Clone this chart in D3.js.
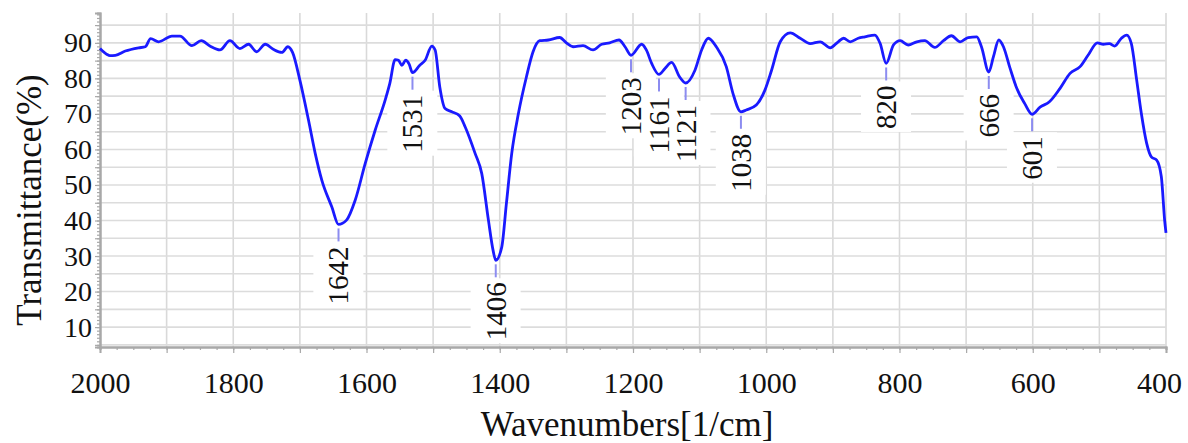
<!DOCTYPE html>
<html>
<head>
<meta charset="utf-8">
<script src="https://cdn.jsdelivr.net/npm/d3@7"></script>
<style>
  html, body { margin: 0; padding: 0; background: #fff; }
  svg { display: block; }
  svg text { font-family: "Liberation Serif", "Times New Roman", Times, "DejaVu Serif", serif; fill: #111; }
</style>
</head>
<body>
<svg id="chart" width="1188" height="443"></svg>
<script>
// FTIR spectrum: wavenumber (1/cm) vs transmittance (%)
const wavenumbers = [
  2000, 1990, 1985, 1977, 1962, 1942, 1932, 1924, 1912, 1892, 1880, 1862, 1848, 1835, 1820,
  1805, 1790, 1777, 1765, 1752, 1740, 1727, 1718, 1711, 1700, 1687, 1677, 1667, 1652, 1642,
  1630, 1617, 1602, 1587, 1572, 1565, 1557, 1552, 1547, 1541, 1536, 1531, 1520, 1512, 1502,
  1497, 1490, 1482, 1472, 1460, 1452, 1437, 1427, 1417, 1410, 1406, 1397, 1390, 1382, 1372,
  1360, 1350, 1340, 1327, 1310, 1300, 1290, 1275, 1260, 1247, 1235, 1221, 1212, 1203, 1187,
  1180, 1172, 1161, 1152, 1142, 1130, 1121, 1107, 1097, 1087, 1075, 1060, 1050, 1038, 1030,
  1015, 1002, 992, 979, 964, 949, 934, 919, 904, 892, 884, 874, 862, 852, 837,
  829, 820, 809, 799, 787, 774, 762, 747, 734, 722, 709, 697, 684, 677, 666,
  659, 651, 644, 634, 624, 612, 601, 589, 575, 559, 544, 529, 517, 503, 494,
  485, 477, 467, 459, 452, 444, 437, 429, 422, 414, 407, 402, 400
];
const transmittance = [
  88.4, 86.8, 86.4, 86.5, 87.7, 88.6, 88.9, 91.2, 90.3, 91.9, 91.9, 89.2, 90.6, 89.1, 88.0,
  90.6, 88.4, 89.6, 87.5, 89.6, 88.2, 87.3, 88.9, 87.3, 79.5, 68.2, 58.9, 51.3, 43.8, 38.9,
  40.1, 45.7, 56.0, 65.4, 73.9, 78.6, 85.3, 85.1, 83.7, 85.1, 84.0, 81.6, 83.7, 85.1, 89.1,
  88.0, 77.6, 71.5, 70.6, 69.4, 66.4, 58.9, 53.2, 40.1, 31.6, 28.8, 32.5, 44.8, 58.9, 70.1,
  80.4, 87.5, 90.6, 90.8, 91.5, 90.0, 88.9, 89.2, 88.0, 89.6, 90.0, 90.8, 88.9, 86.5, 89.6,
  88.0, 84.2, 81.1, 82.8, 84.5, 80.4, 78.7, 82.3, 88.0, 91.3, 88.9, 83.3, 75.8, 70.6, 71.1,
  72.5, 76.7, 82.3, 90.3, 92.8, 91.3, 89.8, 90.3, 88.6, 90.3, 91.3, 90.3, 91.3, 91.7, 92.2,
  89.8, 84.2, 89.4, 90.6, 89.4, 90.3, 90.6, 88.7, 90.6, 92.0, 90.3, 91.5, 91.7, 88.9, 81.8,
  86.1, 90.8, 88.9, 82.8, 77.2, 72.9, 69.9, 71.9, 73.4, 77.2, 81.4, 83.3, 86.5, 90.0, 89.6,
  89.8, 89.1, 91.3, 92.2, 89.8, 79.5, 70.1, 61.7, 57.9, 57.0, 52.3, 40.0, 36.5
];

// Labelled absorption bands
const peakLabels = [1642, 1531, 1406, 1203, 1161, 1121, 1038, 820, 666, 601];

// Axis ticks
const xTickLabels = [2000, 1800, 1600, 1400, 1200, 1000, 800, 600, 400];
const yTickLabels = [10, 20, 30, 40, 50, 60, 70, 80, 90];

const W = 1188, H = 443;
const plot = { left: 100, right: 1166, top: 13, bottom: 347 };
const serif = '"Liberation Serif", "Times New Roman", Times, "DejaVu Serif", serif';

const svg = d3.select("#chart");

const x = d3.scaleLinear().domain([2000, 400]).range([plot.left, plot.right]);
const y = d3.scaleLinear().domain([4.4, 98.4]).range([plot.bottom, plot.top]);

// Layers, back to front
const gGrid = svg.append("g");
const gAxes = svg.append("g");
const gBoxes = svg.append("g");
const gCurve = svg.append("g");
const gLeaders = svg.append("g");
const gLabels = svg.append("g");

// Grid
gGrid.selectAll("line.v")
  .data(d3.range(1900, 399, -100))
  .join("line")
  .attr("class", "v")
  .attr("x1", d => x(d)).attr("x2", d => x(d))
  .attr("y1", plot.top).attr("y2", plot.bottom)
  .attr("stroke", "#d9d9d9").attr("stroke-width", 1.6);
gGrid.selectAll("line.h")
  .data(d3.range(5, 96, 5))
  .join("line")
  .attr("class", "h")
  .attr("x1", plot.left).attr("x2", plot.right)
  .attr("y1", d => y(d)).attr("y2", d => y(d))
  .attr("stroke", "#dcdcdc").attr("stroke-width", 1.6);

// Axes
const xMinor = gAxes.append("g")
  .attr("transform", `translate(0,${plot.bottom})`)
  .call(d3.axisBottom(x).tickValues(d3.range(2000, 399, -25)).tickSize(3).tickFormat(""));
const xMajor = gAxes.append("g")
  .attr("transform", `translate(0,${plot.bottom})`)
  .call(d3.axisBottom(x).tickValues(d3.range(2000, 399, -100)).tickSize(6).tickFormat(""));
const xLab = gAxes.append("g")
  .attr("transform", `translate(0,${plot.bottom})`)
  .call(d3.axisBottom(x).tickValues(xTickLabels).tickSize(0).tickPadding(25).tickFormat(d3.format("d")));

const yMinor = gAxes.append("g")
  .attr("transform", `translate(${plot.left},0)`)
  .call(d3.axisLeft(y).tickValues(d3.range(5, 99, 1)).tickSize(3).tickFormat(""));
const yMajor = gAxes.append("g")
  .attr("transform", `translate(${plot.left},0)`)
  .call(d3.axisLeft(y).tickValues(d3.range(5, 99, 5)).tickSize(5).tickFormat(""));
const yLab = gAxes.append("g")
  .attr("transform", `translate(${plot.left},0)`)
  .call(d3.axisLeft(y).tickValues(yTickLabels).tickSize(0).tickPadding(8).tickFormat(d3.format("d")));

gAxes.selectAll("g").attr("font-family", serif);
[xMinor, xMajor, yMinor, yMajor].forEach(g => {
  g.selectAll("line").attr("stroke", "#a8a8a8").attr("stroke-width", 1.2);
  g.select(".domain").attr("stroke", "#a8a8a8").attr("stroke-width", 2);
});
[xLab, yLab].forEach(g => g.select(".domain").remove());
xLab.selectAll("text").attr("font-size", 30).attr("fill", "#111");
yLab.selectAll("text").attr("font-size", 28).attr("fill", "#111");

// keep the last x label inside the page
xLab.selectAll("text").each(function () {
  const b = this.getBBox();
  const tr = this.parentNode.getAttribute("transform");
  const tx = +tr.match(/translate\(([-\d.]+)/)[1];
  const over = tx + b.x + b.width - (W - 6);
  if (over > 0) d3.select(this).attr("x", -over);
});

const series = wavenumbers.map((w, i) => ({ w, t: transmittance[i] }));
const peakData = peakLabels.map(p => {
  const pt = series.find(s => s.w === p);
  return { w: p, t: pt.t };
});

// Band labels, rotated, with white backing boxes
const labelPos = d => `translate(${x(d.w)},${y(d.t) + 22}) rotate(-90)`;
const ptext = gLabels.selectAll("text")
  .data(peakData)
  .join("text")
  .attr("transform", labelPos)
  .attr("text-anchor", "end")
  .attr("dy", "0.34em")
  .attr("font-size", 29)
  .attr("font-family", serif)
  .text(d => d.w);
ptext.each(function (d) {
  const b = this.getBBox();
  gBoxes.append("rect")
    .attr("transform", labelPos(d))
    .attr("x", b.x - 3).attr("y", b.y - 9)
    .attr("width", b.width + 7).attr("height", b.height + 18)
    .attr("fill", "#fff");
});

// Spectrum line
const line = d3.line()
  .x(d => x(d.w))
  .y(d => y(d.t))
  .curve(d3.curveMonotoneX);
gCurve.append("path")
  .datum(series)
  .attr("fill", "none")
  .attr("stroke", "#1a1aff")
  .attr("stroke-width", 2.8)
  .attr("stroke-linejoin", "round")
  .attr("d", line);

// Leader ticks from each band to its label
gLeaders.selectAll("line")
  .data(peakData)
  .join("line")
  .attr("x1", d => x(d.w)).attr("x2", d => x(d.w))
  .attr("y1", d => y(d.t) + 4).attr("y2", d => y(d.t) + 17)
  .attr("stroke", "#8c8cf0").attr("stroke-width", 2);

// Axis titles
svg.append("text")
  .attr("transform", "translate(41,200) rotate(-90)")
  .attr("text-anchor", "middle")
  .attr("font-size", 35)
  .attr("font-family", serif)
  .text("Transmittance(%)");
svg.append("text")
  .attr("x", 627).attr("y", 436)
  .attr("text-anchor", "middle")
  .attr("font-size", 35)
  .attr("font-family", serif)
  .text("Wavenumbers[1/cm]");
</script>
</body>
</html>
